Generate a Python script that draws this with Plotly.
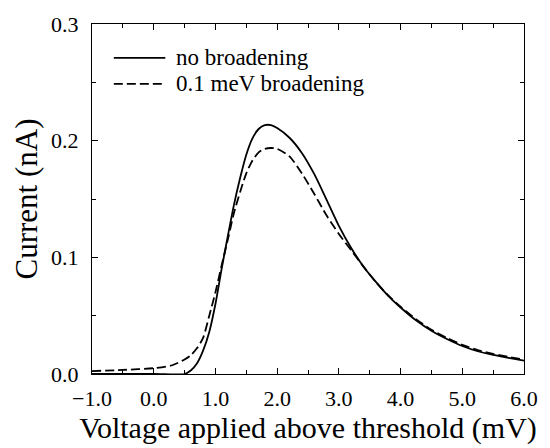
import plotly.graph_objects as go

# Voltage above threshold (mV)
v_solid = [-1.0, 0.0, 0.5, 0.6, 0.7, 0.8, 0.9, 1.0, 1.1, 1.2, 1.3, 1.4, 1.5, 1.6, 1.7,
           1.8, 1.9, 2.0, 2.2, 2.4, 2.6, 2.8, 3.0, 3.2, 3.4, 3.6, 3.8, 4.0,
           4.25, 4.5, 4.75, 5.0, 5.25, 5.5, 5.75, 6.0]
# Current (nA), no broadening
i_solid = [0.0, 0.0, 0.0, 0.003, 0.009, 0.020, 0.036, 0.060, 0.090, 0.118, 0.145, 0.168,
           0.188, 0.202, 0.210, 0.2133, 0.2133, 0.2108, 0.2025, 0.1895, 0.1715, 0.1495,
           0.127, 0.108, 0.092, 0.079, 0.067, 0.057, 0.046, 0.037, 0.030, 0.024, 0.0195,
           0.0163, 0.0139, 0.0115]

v_dash = [-1.0, -0.5, 0.0, 0.3, 0.5, 0.6, 0.7, 0.8, 0.9, 1.0, 1.1, 1.2, 1.3, 1.4, 1.5,
          1.6, 1.7, 1.8, 1.9, 2.0, 2.2, 2.4, 2.6, 2.8, 3.0, 3.2, 3.4, 3.6, 3.8, 4.0,
          4.25, 4.5, 4.75, 5.0, 5.25, 5.5, 5.75, 6.0]
# Current (nA), 0.1 meV broadening
i_dash = [0.0025, 0.0035, 0.005, 0.0075, 0.0125, 0.016, 0.022, 0.031, 0.050, 0.070, 0.093,
          0.115, 0.138, 0.156, 0.172, 0.183, 0.190, 0.193, 0.1937, 0.193, 0.1865,
          0.172, 0.1545, 0.136, 0.120, 0.106, 0.092, 0.0787, 0.0673, 0.0577, 0.047, 0.038,
          0.031, 0.025, 0.0205, 0.0172, 0.0147, 0.0123]

names = ["no broadening", "0.1 meV broadening"]
dashes = ["solid", "9px,4px"]

FONT = "Liberation Serif"

fig = go.Figure()
fig.add_trace(go.Scatter(x=v_solid, y=i_solid, mode="lines", name=names[0],
                         line=dict(color="black", width=1.8, dash=dashes[0],
                                   shape="spline", smoothing=0.7)))
fig.add_trace(go.Scatter(x=v_dash, y=i_dash, mode="lines", name=names[1],
                         line=dict(color="black", width=1.8, dash=dashes[1],
                                   shape="spline", smoothing=0.7)))

# custom legend (swatch lines + labels) in paper coordinates
leg_y = [0.903, 0.829]
shapes = []
annotations = []
for k in range(2):
    shapes.append(dict(type="line", xref="paper", yref="paper",
                       x0=0.0505, x1=0.1697, y0=leg_y[k], y1=leg_y[k],
                       line=dict(color="black", width=1.8, dash=dashes[k])))
    annotations.append(dict(text=names[k], xref="paper", yref="paper",
                            x=0.19, y=leg_y[k], xanchor="left", yanchor="middle",
                            showarrow=False,
                            font=dict(family=FONT, size=23, color="black")))

axis_common = dict(
    showline=True, linecolor="black", linewidth=1.2, mirror="allticks",
    ticks="inside", ticklen=6, tickwidth=1, tickcolor="black",
    showgrid=False, zeroline=False, tickformat=".1f",
    tickfont=dict(family=FONT, size=22, color="black"),
)

fig.update_layout(
    width=550, height=448,
    margin=dict(l=92, r=22, t=15, b=70),
    paper_bgcolor="white", plot_bgcolor="white",
    font=dict(family=FONT, color="black"),
    xaxis=dict(range=[-1, 6], tick0=-1, dtick=1,
               minor=dict(dtick=0.5, ticks="inside", ticklen=4, tickcolor="black"),
               ticklabelstandoff=4,
               title=dict(text="Voltage applied above threshold (mV)",
                          font=dict(family=FONT, size=30, color="black"), standoff=4),
               **axis_common),
    yaxis=dict(range=[0, 0.3], tick0=0, dtick=0.1,
               minor=dict(dtick=0.05, ticks="inside", ticklen=4, tickcolor="black"),
               ticklabelstandoff=8,
               title=dict(text="Current (nA)",
                          font=dict(family=FONT, size=31, color="black"), standoff=4),
               **axis_common),
    showlegend=False,
    shapes=shapes,
    annotations=annotations,
)

fig.write_html("out.html")
